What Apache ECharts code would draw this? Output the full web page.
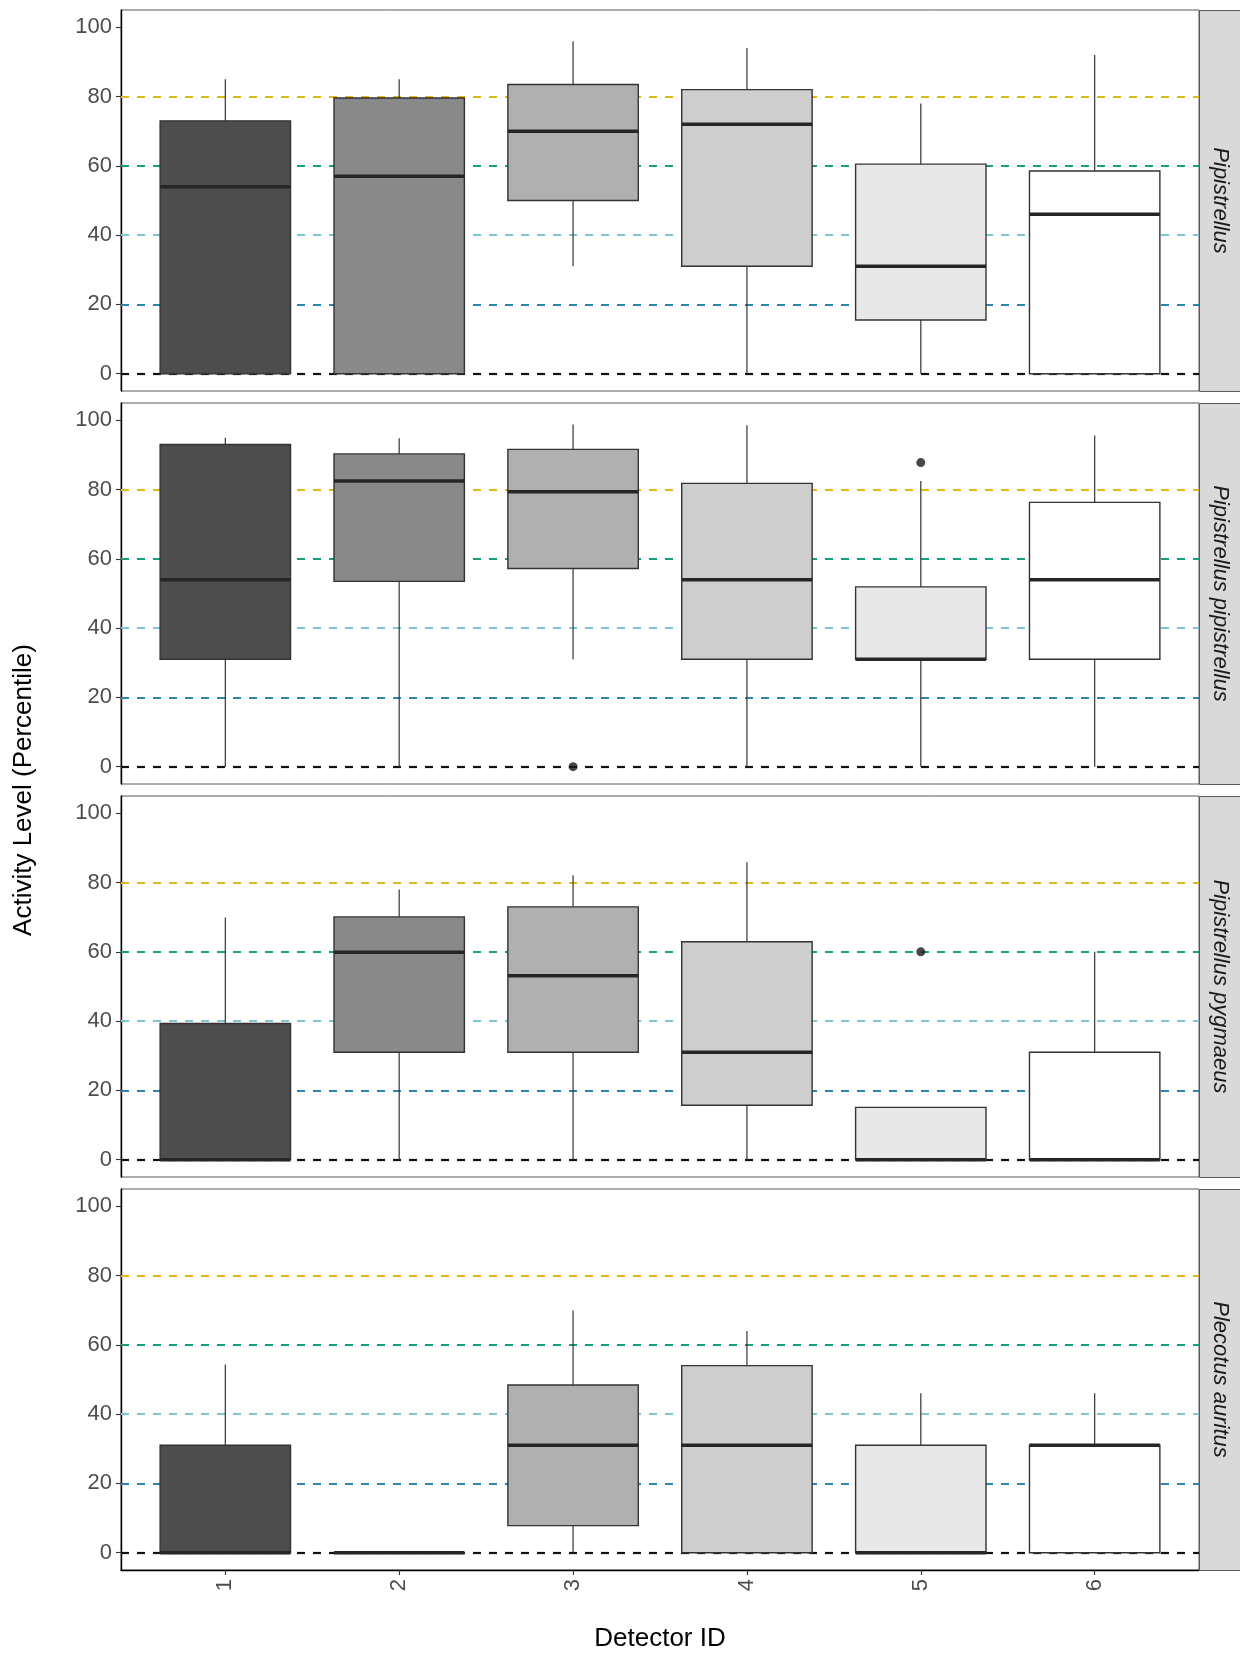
<!DOCTYPE html>
<html>
<head>
<meta charset="utf-8">
<script src="https://cdn.jsdelivr.net/npm/echarts@6/dist/echarts.min.js"></script>
<style>
html,body{margin:0;padding:0;background:#fff;}
#chart{width:1240px;height:1655px;}
</style>
</head>
<body>
<div id="chart"></div>
<script>
// ---- data ----
const categories = ['1', '2', '3', '4', '5', '6'];
const species = ['Pipistrellus', 'Pipistrellus pipistrellus', 'Pipistrellus pygmaeus', 'Plecotus auritus'];
const yTicks = [0, 20, 40, 60, 80, 100];
const refLevels = [0, 20, 40, 60, 80];

// [min, Q1, median, Q3, max] per detector
const pipistrellus = [
  [0, 0, 54, 73, 85],
  [0, 0, 57, 79.6, 85],
  [31, 50, 70, 83.5, 96],
  [0, 31, 72, 82, 94],
  [0, 15.5, 31, 60.5, 78],
  [0, 0, 46, 58.5, 92]
];
const pipistrellusPipistrellus = [
  [0, 31, 54, 93, 95],
  [0, 53.5, 82.5, 90.3, 94.8],
  [31, 57.2, 79.4, 91.6, 98.8],
  [0, 31, 54, 81.8, 98.6],
  [0, 31, 31, 51.9, 82.5],
  [0, 31, 54, 76.3, 95.6]
];
const pipistrellusPygmaeus = [
  [0, 0, 0, 39.3, 69.9],
  [0, 31, 59.9, 70.1, 78],
  [0, 31, 53.1, 73, 82.1],
  [0, 15.7, 31, 62.9, 85.9],
  [0, 0, 0, 15.1, 15.1],
  [0, 0, 0, 31, 60]
];
const plecotusAuritus = [
  [0, 0, 0, 31, 54.3],
  [0, 0, 0, 0, 0],
  [0, 7.8, 31, 48.4, 69.9],
  [0, 0, 31, 54, 64],
  [0, 0, 0, 31, 46],
  [0, 0, 31, 31, 46]
];
// outliers: [detector, value]
const outliersPipistrellus = [];
const outliersPipPip = [['3', 0], ['5', 87.8]];
const outliersPygmaeus = [['5', 60]];
const outliersPlecotus = [];

// ---- styles ----
const fillColors = ['#4d4d4d', '#898989', '#b0b0b0', '#cecece', '#e8e8e8', '#ffffff'];
const refColors = ['#111111', '#2c87b0', '#7cc6d6', '#1a9e80', '#e0b818'];
const FONT = '"Liberation Sans", Arial, sans-serif';

const stats = [pipistrellus, pipistrellusPipistrellus, pipistrellusPygmaeus, plecotusAuritus];
const outliers = [outliersPipistrellus, outliersPipPip, outliersPygmaeus, outliersPlecotus];

const panelTops = [10, 403, 796, 1189];
const panelH = 381;
const gridLeft = 121, gridRight = 41;

const grids = [], xAxes = [], yAxes = [], series = [], graphics = [];

panelTops.forEach((top, p) => {
  const last = p === panelTops.length - 1;
  grids.push({left: gridLeft, right: gridRight, top: top, height: panelH,
    show: true, borderColor: '#5a5a5a', borderWidth: 1, backgroundColor: '#fff'});
  xAxes.push({
    gridIndex: p, type: 'value', min: 0.4, max: 6.6,
    splitLine: {show: false},
    axisLine: {show: last, onZero: false, lineStyle: {color: '#000', width: 1.4}},
    axisTick: {show: last, length: 5, lineStyle: {color: '#333', width: 1.1}, customValues: categories.map(Number)},
    axisLabel: {show: last, rotate: 90, margin: 9, fontSize: 22, color: '#4d4d4d', fontFamily: FONT,
      customValues: categories.map(Number), formatter: v => String(v)}
  });
  yAxes.push({
    gridIndex: p, type: 'value', min: -5, max: 105,
    splitLine: {show: false},
    axisLine: {show: true, onZero: false, lineStyle: {color: '#000', width: 1.4}},
    axisTick: {show: true, length: 5, lineStyle: {color: '#333', width: 1.1}, customValues: yTicks},
    axisLabel: {fontSize: 22, color: '#4d4d4d', fontFamily: FONT, margin: 9, customValues: yTicks}
  });
  // reference lines
  series.push({
    type: 'line', xAxisIndex: p, yAxisIndex: p, data: [], z: 1, silent: true,
    markLine: {
      silent: true, symbol: ['none', 'none'], animation: false,
      label: {show: false},
      data: refLevels.map((v, i) => ({yAxis: v, lineStyle: {color: refColors[i], type: [8, 8], width: i === 0 ? 2.2 : 2}}))
    }
  });
  // boxes
  series.push({
    type: 'custom', xAxisIndex: p, yAxisIndex: p, z: 5,
    encode: {x: 0, y: [1, 2, 3, 4, 5]},
    data: categories.map((c, i) => [Number(c)].concat(stats[p][i])),
    renderItem: function (params, api) {
      const x = api.value(0);
      const pMin = api.coord([x, api.value(1)]);
      const pQ1 = api.coord([x, api.value(2)]);
      const pMed = api.coord([x, api.value(3)]);
      const pQ3 = api.coord([x, api.value(4)]);
      const pMax = api.coord([x, api.value(5)]);
      const bw = api.size([0.75, 0])[0];
      const fill = fillColors[params.dataIndex];
      return {
        type: 'group',
        children: [
          {type: 'line', shape: {x1: pMax[0], y1: pMax[1], x2: pQ3[0], y2: pQ3[1]}, style: {stroke: '#333', lineWidth: 1.2}},
          {type: 'line', shape: {x1: pQ1[0], y1: pQ1[1], x2: pMin[0], y2: pMin[1]}, style: {stroke: '#333', lineWidth: 1.2}},
          {type: 'rect', shape: {x: pQ3[0] - bw / 2, y: pQ3[1], width: bw, height: pQ1[1] - pQ3[1]},
            style: {fill: fill, stroke: '#333', lineWidth: 1.4}},
          {type: 'line', shape: {x1: pMed[0] - bw / 2, y1: pMed[1], x2: pMed[0] + bw / 2, y2: pMed[1]},
            style: {stroke: '#262626', lineWidth: 3.5}}
        ]
      };
    }
  });
  // outliers
  series.push({
    type: 'scatter', xAxisIndex: p, yAxisIndex: p, z: 6,
    data: outliers[p].map(d => [Number(d[0]), d[1]]),
    symbol: 'circle', symbolSize: 9,
    itemStyle: {color: '#1a1a1a'}
  });
  // strip
  graphics.push({
    type: 'rect', left: 1199, top: top, z: 10,
    shape: {width: 42, height: panelH},
    style: {fill: '#d9d9d9', stroke: '#5a5a5a', lineWidth: 1}
  });
  graphics.push({
    type: 'text', x: 1220, y: top + panelH / 2, rotation: -Math.PI / 2, z: 11,
    style: {text: species[p], fontSize: 22, fontStyle: 'italic', fontFamily: FONT, fill: '#1a1a1a',
      align: 'center', verticalAlign: 'middle'}
  });
});

graphics.push({
  type: 'text', x: 24, y: 790, rotation: Math.PI / 2,
  style: {text: 'Activity Level (Percentile)', fontSize: 26, fontFamily: FONT, fill: '#000',
    align: 'center', verticalAlign: 'middle'}
});
graphics.push({
  type: 'text', x: 660, y: 1639,
  style: {text: 'Detector ID', fontSize: 26, fontFamily: FONT, fill: '#000',
    align: 'center', verticalAlign: 'middle'}
});

const chart = echarts.init(document.getElementById('chart'), null, {renderer: 'canvas'});
chart.setOption({
  animation: false,
  backgroundColor: '#fff',
  grid: grids,
  xAxis: xAxes,
  yAxis: yAxes,
  series: series,
  graphic: graphics
});
</script>
</body>
</html>
